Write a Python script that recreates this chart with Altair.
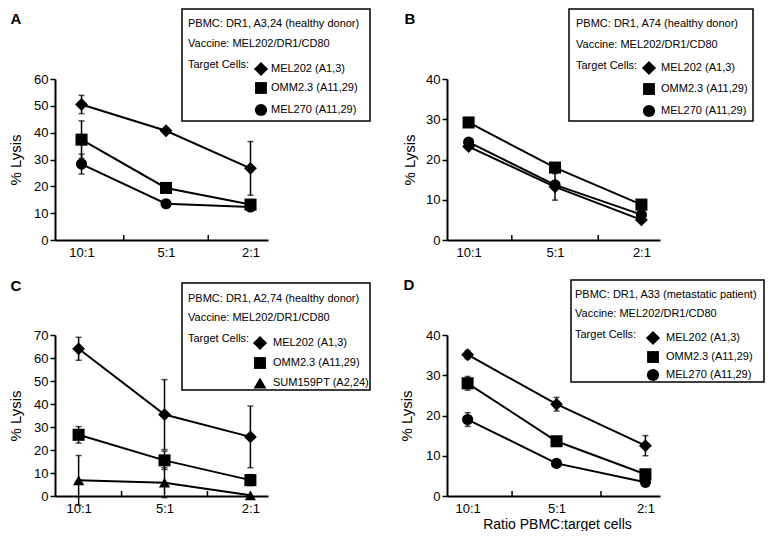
import json
import altair as alt
import pandas as pd

FONT = "Liberation Sans"
CATS = ["10:1", "5:1", "2:1"]

# ---------------- Panel A ----------------
A_INFO = ["PBMC: DR1, A3,24 (healthy donor)", "Vaccine: MEL202/DR1/CD80"]
A_NAMES = ["MEL202 (A1,3)", "OMM2.3 (A11,29)", "MEL270 (A11,29)"]
A_SHAPES = ["diamond", "square", "circle"]
A_MEL202 = [50.5, 40.7, 26.7]
A_MEL202_ERR = [3.4, 0.0, 10.0]
A_OMM23 = [37.4, 19.4, 13.2]
A_OMM23_ERR = [7.0, 0.0, 0.0]
A_MEL270 = [28.3, 13.5, 12.3]
A_MEL270_ERR = [3.7, 0.0, 0.0]
A_YMAX = 60

# ---------------- Panel B ----------------
B_INFO = ["PBMC: DR1, A74 (healthy donor)", "Vaccine: MEL202/DR1/CD80"]
B_NAMES = ["MEL202 (A1,3)", "OMM2.3 (A11,29)", "MEL270 (A11,29)"]
B_SHAPES = ["diamond", "square", "circle"]
B_MEL202 = [23.2, 13.2, 5.0]
B_MEL202_ERR = [0.0, 3.3, 0.0]
B_OMM23 = [29.2, 18.0, 8.8]
B_OMM23_ERR = [0.0, 0.0, 0.0]
B_MEL270 = [24.3, 13.7, 6.3]
B_MEL270_ERR = [0.0, 0.0, 0.0]
B_YMAX = 40

# ---------------- Panel C ----------------
C_INFO = ["PBMC: DR1, A2,74 (healthy donor)", "Vaccine: MEL202/DR1/CD80"]
C_NAMES = ["MEL202 (A1,3)", "OMM2.3 (A11,29)", "SUM159PT (A2,24)"]
C_SHAPES = ["diamond", "square", "triangle-up"]
C_MEL202 = [64.0, 35.4, 25.7]
C_MEL202_ERR = [5.0, 15.2, 13.4]
C_OMM23 = [26.6, 15.5, 6.9]
C_OMM23_ERR = [3.6, 4.0, 2.4]
C_SUM159 = [6.8, 5.8, 0.3]
C_SUM159_ERR = [10.8, 6.5, 0.0]
C_YMAX = 70

# ---------------- Panel D ----------------
D_INFO = ["PBMC: DR1, A33 (metastatic patient)", "Vaccine: MEL202/DR1/CD80"]
D_NAMES = ["MEL202 (A1,3)", "OMM2.3 (A11,29)", "MEL270 (A11,29)"]
D_SHAPES = ["diamond", "square", "circle"]
D_MEL202 = [35.1, 22.8, 12.5]
D_MEL202_ERR = [1.0, 1.7, 2.5]
D_OMM23 = [28.0, 13.6, 5.4]
D_OMM23_ERR = [1.7, 0.0, 0.0]
D_MEL270 = [19.0, 8.1, 3.4]
D_MEL270_ERR = [1.7, 0.0, 0.0]
D_YMAX = 40

TARGET_LABEL = "Target Cells:"
X_TITLE = "Ratio PBMC:target cells"
Y_TITLE = "% Lysis"

# styling / layout (pixels)
W, H = 213, 161
SIZES = {"diamond": 165, "square": 125, "circle": 135, "triangle-up": 160}
LEG_SIZES = {"diamond": 200, "square": 140, "circle": 150, "triangle-up": 165}
LAYOUT = {
    "A": dict(d=(0.686, 3.207), letter=(-39, -60), ytx=-40,
              box=(127, -70, 315, 42), rows=(15, 35, 56), entries=(60, 79, 101),
              tx=6, sym=79, etx=89),
    "B": dict(d=(0.75, 3.215), letter=(-37, -60), ytx=-38,
              box=(122, -70, 306, 42), rows=(15, 36, 57), entries=(59, 80, 102),
              tx=7, sym=80, etx=92),
    "C": dict(d=(0.725, 3.205), letter=(-39, -49), ytx=-40,
              box=(127, -52, 315, 55), rows=(16, 35, 56), entries=(60, 80, 100),
              tx=6, sym=78, etx=91),
    "D": dict(d=(0.768, 3.164), letter=(-38, -50), ytx=-41,
              box=(124, -55, 317, 47), rows=(15, 34, 55), entries=(58, 77, 95),
              tx=4, sym=82, etx=95),
}


def one():
    return alt.Chart(pd.DataFrame({"k": [0]}))


def make_panel(letter, info, names, shapes, vals, errs, ymax, xtitle=None):
    L = LAYOUT[letter]
    rows = []
    for name, v, e in zip(names, vals, errs):
        for i, (vv, ee) in enumerate(zip(v, e)):
            rows.append(dict(series=name, xi=i + 1, v=vv, lo=vv - ee, hi=vv + ee, err=ee))
    df = pd.DataFrame(rows)

    xscale = alt.Scale(domain=list(L["d"]), nice=False, zero=False)
    yscale = alt.Scale(domain=[0, ymax], nice=False)
    label_expr = json.dumps(CATS) + "[datum.value - 1]"
    xaxis = alt.Axis(values=[1, 2, 3], labelExpr=label_expr, ticks=False, tickSize=0,
                     labelPadding=6, labelFontSize=13, labelFlush=False, labelColor="black",
                     labelFont=FONT, grid=False, domainColor="black", domainWidth=2,
                     titleFont=FONT, titleFontSize=14, titleFontWeight="normal",
                     titleColor="black", titleX=110, titleY=28, titleBaseline="middle",
                     titleAlign="center")
    yaxis = alt.Axis(values=list(range(0, ymax + 1, 10)), tickSize=5, tickWidth=1.5,
                     tickColor="black", labelPadding=2, labelFontSize=13, labelColor="black",
                     labelFont=FONT, grid=False, domainColor="black", domainWidth=2,
                     labelOverlap=False,
                     titleFont=FONT, titleFontSize=15, titleFontWeight="normal",
                     titleColor="black", titleX=L["ytx"], titleY=H / 2, titleAngle=270,
                     titleBaseline="middle", titleAlign="center")

    def X(f):
        return alt.X(f"{f}:Q", scale=xscale, axis=xaxis, title=xtitle)

    def Y(f):
        return alt.Y(f"{f}:Q", scale=yscale, axis=yaxis, title=Y_TITLE)

    base = alt.Chart(df)
    lines = base.mark_line(color="black", strokeWidth=2).encode(
        x=X("xi"), y=Y("v"), detail="series:N", order="xi:Q")
    eb = base.transform_filter("datum.err > 0")
    rule = eb.mark_rule(color="black", strokeWidth=1.5).encode(x=X("xi"), y=Y("lo"), y2="hi:Q")
    cap_lo = eb.mark_tick(orient="horizontal", color="black", size=6, thickness=1.5).encode(
        x=X("xi"), y=Y("lo"))
    cap_hi = eb.mark_tick(orient="horizontal", color="black", size=6, thickness=1.5).encode(
        x=X("xi"), y=Y("hi"))
    pts = base.mark_point(filled=True, opacity=1, color="black").encode(
        x=X("xi"), y=Y("v"),
        shape=alt.Shape("series:N", scale=alt.Scale(domain=names, range=shapes), legend=None),
        size=alt.Size("series:N", scale=alt.Scale(domain=names, range=[SIZES[s] for s in shapes]),
                      legend=None))
    minor = alt.Chart(pd.DataFrame({"xi": [1.5, 2.5], "y0": [0, 0]})).mark_rule(
        color="black", strokeWidth=1.5).encode(x=X("xi"), y=Y("y0"), y2=alt.value(H - 5))

    layers = [minor, lines, rule, cap_lo, cap_hi, pts]

    # panel letter
    layers.append(one().mark_text(text=letter, font=FONT, fontSize=15, fontWeight="bold",
                                  align="center", baseline="middle", color="black").encode(
        x=alt.value(L["letter"][0]), y=alt.value(L["letter"][1])))

    # legend box
    bx0, by0, bx1, by1 = L["box"]
    layers.append(one().mark_rect(fill="white", stroke="black", strokeWidth=1.5).encode(
        x=alt.value(bx0), x2=alt.value(bx1), y=alt.value(by0), y2=alt.value(by1)))
    for txt, ry in zip(list(info) + [TARGET_LABEL], L["rows"]):
        layers.append(one().mark_text(text=txt, font=FONT, fontSize=11, align="left",
                                      baseline="middle", color="black").encode(
            x=alt.value(bx0 + L["tx"]), y=alt.value(by0 + ry)))
    for name, shape, ry in zip(names, shapes, L["entries"]):
        layers.append(one().mark_point(shape=shape, filled=True, opacity=1, color="black",
                                       size=LEG_SIZES[shape]).encode(
            x=alt.value(bx0 + L["sym"]), y=alt.value(by0 + ry)))
        layers.append(one().mark_text(text=name, font=FONT, fontSize=11, align="left",
                                      baseline="middle", color="black").encode(
            x=alt.value(bx0 + L["etx"]), y=alt.value(by0 + ry)))

    return alt.layer(*layers).properties(width=W, height=H)


pA = make_panel("A", A_INFO, A_NAMES, A_SHAPES, [A_MEL202, A_OMM23, A_MEL270],
                [A_MEL202_ERR, A_OMM23_ERR, A_MEL270_ERR], A_YMAX)
pB = make_panel("B", B_INFO, B_NAMES, B_SHAPES, [B_MEL202, B_OMM23, B_MEL270],
                [B_MEL202_ERR, B_OMM23_ERR, B_MEL270_ERR], B_YMAX)
pC = make_panel("C", C_INFO, C_NAMES, C_SHAPES, [C_MEL202, C_OMM23, C_SUM159],
                [C_MEL202_ERR, C_OMM23_ERR, C_SUM159_ERR], C_YMAX)
pD = make_panel("D", D_INFO, D_NAMES, D_SHAPES, [D_MEL202, D_OMM23, D_MEL270],
                [D_MEL202_ERR, D_OMM23_ERR, D_MEL270_ERR], D_YMAX, xtitle=X_TITLE)

chart = (
    alt.concat(pA, pB, pC, pD, columns=2, spacing={"row": 95, "column": 179}, bounds="flush")
    .resolve_scale(shape="independent", size="independent")
    .properties(padding=0)
    .configure_view(stroke=None)
)

chart.save("out.html", embed_options={"renderer": "svg", "actions": False})
